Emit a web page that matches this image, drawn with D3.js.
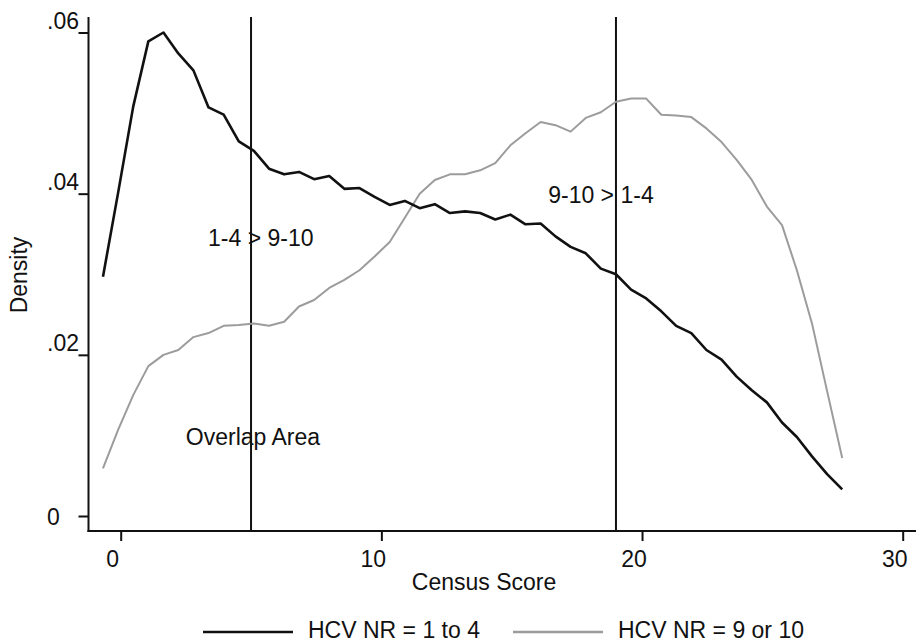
<!DOCTYPE html>
<html>
<head>
<meta charset="utf-8">
<script src="https://cdn.jsdelivr.net/npm/d3@7"></script>
<style>
  html, body { margin: 0; padding: 0; background: #fff; }
  svg { display: block; }
  text { font-family: "Liberation Sans", Arial, Helvetica, sans-serif; fill: #111; }
</style>
</head>
<body>
<svg id="chart" width="916" height="642"></svg>
<script>
// ---- data ----
const censusScore = [-0.68, -0.10, 0.48, 1.06, 1.64, 2.21, 2.79, 3.37, 3.95, 4.53,
  5.11, 5.69, 6.27, 6.84, 7.42, 8.00, 8.58, 9.16, 9.74, 10.32,
  10.90, 11.47, 12.05, 12.63, 13.21, 13.79, 14.37, 14.95, 15.53, 16.11,
  16.68, 17.26, 17.84, 18.42, 19.00, 19.58, 20.16, 20.74, 21.31, 21.89,
  22.47, 23.05, 23.63, 24.21, 24.79, 25.37, 25.94, 26.52, 27.10, 27.68];

const densityNR1to4 = [0.0297, 0.0401, 0.0508, 0.0589, 0.0600, 0.0574, 0.0553, 0.0507, 0.0498, 0.0465,
  0.0453, 0.0431, 0.0424, 0.0427, 0.0418, 0.0422, 0.0406, 0.0407, 0.0396, 0.0386,
  0.0391, 0.0382, 0.0387, 0.0376, 0.0378, 0.0376, 0.0368, 0.0374, 0.0362, 0.0363,
  0.0347, 0.0334, 0.0326, 0.0307, 0.0300, 0.0281, 0.0270, 0.0254, 0.0236, 0.0227,
  0.0206, 0.0194, 0.0173, 0.0156, 0.0141, 0.0116, 0.0098, 0.0074, 0.0052, 0.0033];

const densityNR9or10 = [0.0059, 0.0107, 0.0150, 0.0186, 0.0200, 0.0206, 0.0222, 0.0227, 0.0236, 0.0237,
  0.0239, 0.0236, 0.0241, 0.0260, 0.0268, 0.0283, 0.0293, 0.0305, 0.0322, 0.0340,
  0.0370, 0.0400, 0.0417, 0.0424, 0.0424, 0.0429, 0.0438, 0.0460, 0.0475, 0.0489,
  0.0485, 0.0477, 0.0494, 0.0501, 0.0514, 0.0518, 0.0518, 0.0498, 0.0497, 0.0495,
  0.0481, 0.0464, 0.0442, 0.0417, 0.0384, 0.0361, 0.0305, 0.0239, 0.0155, 0.0072];

const seriesNames = ["HCV NR = 1 to 4", "HCV NR = 9 or 10"];
const xTicks = [0, 10, 20, 30];
const yTicks = [0, 0.02, 0.04, 0.06];
const yTickLabels = ["0", ".02", ".04", ".06"];
const cutoffs = [5, 19];
const annotations = [
  { text: "1-4 > 9-10", x: 3.35, y: 0.0335 },
  { text: "9-10 > 1-4", x: 16.4, y: 0.0389 },
  { text: "Overlap Area", x: 2.5, y: 0.0088 }
];

// ---- layout ----
const svg = d3.select("#chart");
const FONT = 23;
const x = d3.scaleLinear().domain([0, 30]).range([120.7, 902.7]);
const y = d3.scaleLinear().domain([0, 0.06]).range([516, 32.5]);
const axisLeftX = 88.5, axisBottomY = 531, plotTop = 17, plotRight = 916;

// vertical cutoff lines
svg.selectAll("line.cut").data(cutoffs).enter().append("line")
  .attr("class", "cut")
  .attr("x1", d => x(d)).attr("x2", d => x(d))
  .attr("y1", plotTop).attr("y2", axisBottomY)
  .attr("stroke", "#111").attr("stroke-width", 2);

// curves
const line = d3.line().x((d, i) => x(censusScore[i])).y(d => y(d)).curve(d3.curveLinear);
svg.append("path").datum(densityNR9or10)
  .attr("d", line).attr("fill", "none")
  .attr("stroke", "#9c9c9c").attr("stroke-width", 2).attr("stroke-linejoin", "round");
svg.append("path").datum(densityNR1to4)
  .attr("d", line).attr("fill", "none")
  .attr("stroke", "#111").attr("stroke-width", 2.6).attr("stroke-linejoin", "round");

// axes
const yAxis = d3.axisLeft(y).tickValues(yTicks).tickSize(10).tickPadding(0)
  .tickFormat((d, i) => yTickLabels[i]);
const gy = svg.append("g").attr("transform", `translate(${axisLeftX},0)`).call(yAxis);
gy.select(".domain").remove();
gy.selectAll(".tick line").attr("stroke", "#111").attr("stroke-width", 2);
gy.selectAll(".tick text")
  .attr("x", 47 - axisLeftX).attr("text-anchor", "start")
  .attr("dy", d => d === 0 ? "0.35em" : "-0.18em")
  .style("font-size", FONT + "px").attr("fill", "#111");

const xAxis = d3.axisBottom(x).tickValues(xTicks).tickSize(10).tickPadding(0)
  .tickFormat(d3.format("d"));
const gx = svg.append("g").attr("transform", `translate(0,${axisBottomY})`).call(xAxis);
gx.select(".domain").remove();
gx.selectAll(".tick line").attr("stroke", "#111").attr("stroke-width", 2);
gx.selectAll(".tick text")
  .attr("x", -8.5).attr("y", 36).attr("dy", 0)
  .style("font-size", FONT + "px").attr("fill", "#111");

svg.append("line").attr("x1", axisLeftX).attr("x2", axisLeftX)
  .attr("y1", plotTop).attr("y2", axisBottomY + 1)
  .attr("stroke", "#111").attr("stroke-width", 2);
svg.append("line").attr("x1", axisLeftX - 1).attr("x2", plotRight)
  .attr("y1", axisBottomY).attr("y2", axisBottomY)
  .attr("stroke", "#111").attr("stroke-width", 2);

// axis titles
svg.append("text").attr("x", 484).attr("y", 590).attr("text-anchor", "middle")
  .style("font-size", FONT + "px").text("Census Score");
svg.append("text").attr("transform", "translate(27,275) rotate(-90)")
  .attr("text-anchor", "middle").style("font-size", FONT + "px").text("Density");

// annotations
svg.selectAll("text.ann").data(annotations).enter().append("text")
  .attr("class", "ann")
  .attr("x", d => x(d.x)).attr("y", d => y(d.y))
  .style("font-size", FONT + "px").text(d => d.text);

// legend
const legend = [
  { name: seriesNames[0], color: "#111", w: 2.4, x0: 203, tx: 308 },
  { name: seriesNames[1], color: "#9c9c9c", w: 2.4, x0: 513, tx: 618 }
];
const lg = svg.append("g");
lg.selectAll("line").data(legend).enter().append("line")
  .attr("x1", d => d.x0).attr("x2", d => d.x0 + 90)
  .attr("y1", 632).attr("y2", 632)
  .attr("stroke", d => d.color).attr("stroke-width", d => d.w);
lg.selectAll("text").data(legend).enter().append("text")
  .attr("x", d => d.tx).attr("y", 638)
  .style("font-size", FONT + "px").text(d => d.name);
</script>
</body>
</html>
